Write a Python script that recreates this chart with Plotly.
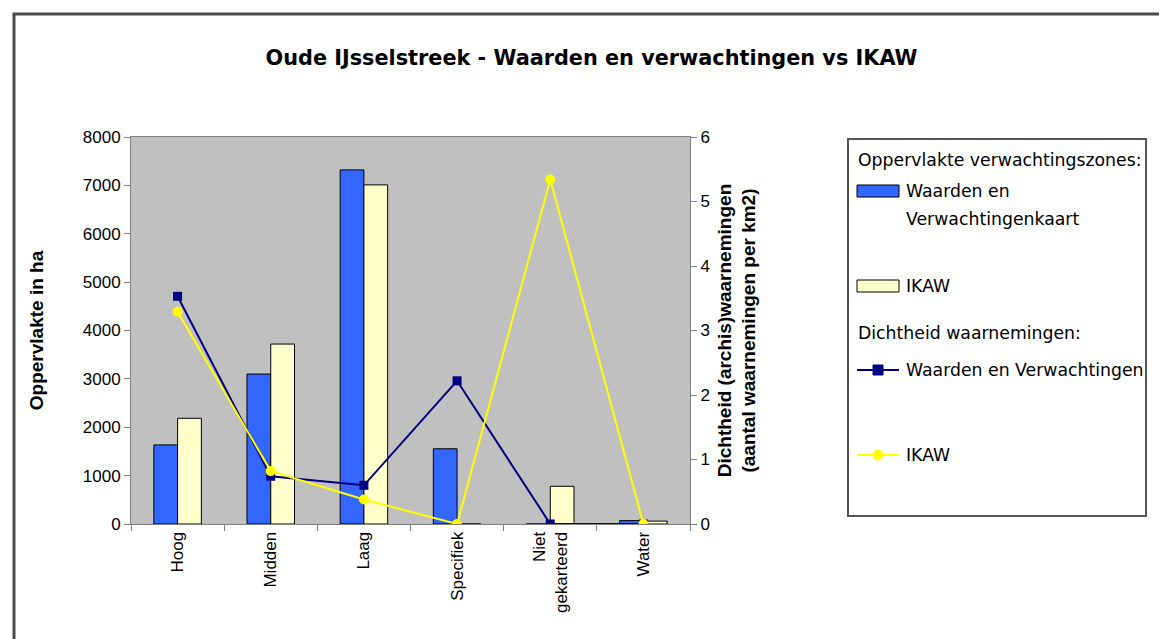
import plotly.graph_objects as go

categories = ["Hoog", "Midden", "Laag", "Specifiek", "Niet<br>gekarteerd", "Water"]
opp_wv = [1635, 3100, 7320, 1555, 0, 70]
opp_ikaw = [2185, 3720, 7010, 0, 780, 60]
dicht_wv = [3.53, 0.74, 0.60, 2.22, 0.0, 0.0]
dicht_ikaw = [3.29, 0.82, 0.38, 0.0, 5.34, 0.0]
y1_ticks = [0, 1000, 2000, 3000, 4000, 5000, 6000, 7000, 8000]
y2_ticks = [0, 1, 2, 3, 4, 5, 6]

series_names = ["Waarden en Verwachtingenkaart", "IKAW", "Waarden en Verwachtingen", "IKAW"]
bar_colors = ["#3366FF", "#FFFFCC"]
line_colors = ["#000080", "#FFFF00"]

W, H = 1167, 639
L, R, T, B = 123, 682, 129, 516


def px(x):
    return (x - L) / (R - L)


def py(y):
    return (B - y) / (B - T)


fig = go.Figure()
fig.add_trace(go.Bar(
    x=categories, y=opp_wv, name=series_names[0],
    marker=dict(color=bar_colors[0], line=dict(color="#000000", width=1)),
))
fig.add_trace(go.Bar(
    x=categories, y=opp_ikaw, name=series_names[1],
    marker=dict(color=bar_colors[1], line=dict(color="#000000", width=1)),
))
fig.add_trace(go.Scatter(
    x=categories, y=dicht_wv, name=series_names[2], yaxis="y2",
    mode="lines+markers", line=dict(color=line_colors[0], width=2),
    marker=dict(symbol="square", size=9, color=line_colors[0]),
))
fig.add_trace(go.Scatter(
    x=categories, y=dicht_ikaw, name=series_names[3], yaxis="y2",
    mode="lines+markers", line=dict(color=line_colors[1], width=2),
    marker=dict(symbol="circle", size=10, color=line_colors[1]),
))

tick_font = dict(family="Liberation Sans, Arial, sans-serif", size=17, color="#000000")
axtitle_font = dict(family="Liberation Sans, Arial, sans-serif", size=19, color="#000000")
leg_font = dict(family="DejaVu Sans, sans-serif", size=17.3, color="#000000")

fig.update_layout(
    width=W, height=H,
    margin=dict(l=L, r=W - R, t=T, b=H - B, pad=0),
    paper_bgcolor="#FFFFFF",
    plot_bgcolor="#C0C0C0",
    barmode="group",
    bargap=0.49,
    bargroupgap=0,
    showlegend=False,
    title=dict(
        text="<b>Oude IJsselstreek - Waarden en verwachtingen vs IKAW</b>",
        x=0.5, xref="container", xanchor="center",
        y=1 - 50 / H, yref="container", yanchor="middle",
        font=dict(family="DejaVu Sans, sans-serif", size=20.8, color="#000000"),
    ),
    xaxis=dict(
        type="category", tickangle=-90, tickfont=tick_font,
        showline=True, linecolor="#808080", linewidth=1, mirror=True,
        ticks="outside", tickson="boundaries", ticklen=6, tickcolor="#808080",
        showgrid=False,
    ),
    yaxis=dict(
        range=[0, 8000], tickvals=y1_ticks, tickfont=tick_font,
        title=dict(text="<b>Oppervlakte in ha</b>", font=axtitle_font, standoff=34),
        showline=True, linecolor="#808080", linewidth=1, mirror=True,
        ticks="outside", ticklen=6, tickcolor="#808080",
        showgrid=False, zeroline=False,
    ),
    yaxis2=dict(
        range=[0, 6], tickvals=y2_ticks, tickfont=tick_font, overlaying="y", side="right",
        title=dict(text="<b>Dichtheid (archis)waarnemingen<br>(aantal waarnemingen per km2)</b>",
                   font=axtitle_font, standoff=8),
        showline=True, linecolor="#808080", linewidth=1,
        ticks="outside", ticklen=6, tickcolor="#808080",
        showgrid=False, zeroline=False,
    ),
)

shapes = []
# outer chart frame (top and left visible, continues past the right/bottom edges)
shapes.append(dict(type="rect", xref="paper", yref="paper",
                   x0=px(6), y0=py(650), x1=px(1180), y1=py(6),
                   line=dict(color="#4a4a4a", width=3), fillcolor="rgba(0,0,0,0)", layer="below"))
# legend box
shapes.append(dict(type="rect", xref="paper", yref="paper",
                   x0=px(840), y0=py(508), x1=px(1138), y1=py(131),
                   line=dict(color="#555555", width=2), fillcolor="#FFFFFF"))
# bar swatches
shapes.append(dict(type="rect", xref="paper", yref="paper",
                   x0=px(849), y0=py(189), x1=px(891), y1=py(177),
                   line=dict(color="#000000", width=1), fillcolor=bar_colors[0]))
shapes.append(dict(type="rect", xref="paper", yref="paper",
                   x0=px(849), y0=py(284), x1=px(891), y1=py(272),
                   line=dict(color="#000000", width=1), fillcolor=bar_colors[1]))
# line swatches
shapes.append(dict(type="line", xref="paper", yref="paper",
                   x0=px(849), y0=py(362), x1=px(891), y1=py(362),
                   line=dict(color=line_colors[0], width=2)))
shapes.append(dict(type="rect", xref="paper", yref="paper",
                   x0=px(865), y0=py(367), x1=px(875), y1=py(357),
                   line=dict(color=line_colors[0], width=1), fillcolor=line_colors[0]))
shapes.append(dict(type="line", xref="paper", yref="paper",
                   x0=px(849), y0=py(447), x1=px(891), y1=py(447),
                   line=dict(color=line_colors[1], width=2)))
shapes.append(dict(type="circle", xref="paper", yref="paper",
                   x0=px(865), y0=py(452), x1=px(875), y1=py(442),
                   line=dict(color=line_colors[1], width=1), fillcolor=line_colors[1]))
fig.update_layout(shapes=shapes)

leg_texts = [
    ("Oppervlakte verwachtingszones:", 848, 152),
    ("Waarden en", 896, 183),
    ("Verwachtingenkaart", 896, 211),
    (series_names[1], 896, 278),
    ("Dichtheid waarnemingen:", 848, 325),
    (series_names[2], 896, 362),
    (series_names[3], 896, 447),
]
for txt, x, y in leg_texts:
    fig.add_annotation(text=txt, x=px(x), y=py(y), xref="paper", yref="paper",
                       xanchor="left", yanchor="middle", showarrow=False,
                       font=leg_font, align="left")

fig.write_html("out.html")
